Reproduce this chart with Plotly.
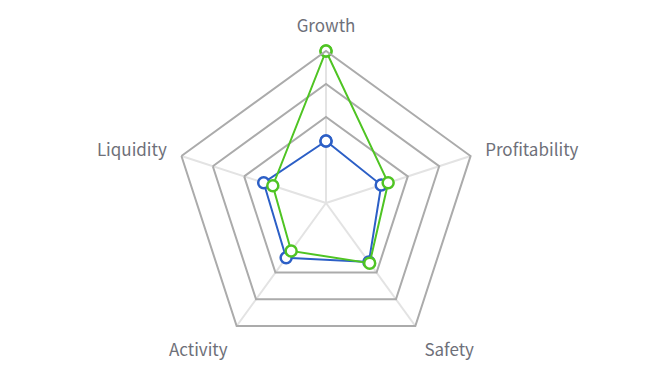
import plotly.graph_objects as go

categories = ["Growth", "Profitability", "Safety", "Activity", "Liquidity"]
series_a = [40.8, 38.2, 48.0, 44.6, 43.1]   # blue
series_b = [100.0, 43.0, 48.9, 39.0, 36.8]  # green
ring_values = [56.6, 78.3]
r_max = 100

BLUE = "#2c5fc6"
GREEN = "#4fc423"

def closed(v):
    return list(v) + [v[0]]

fig = go.Figure()
for vals, col in [(series_a, BLUE), (series_b, GREEN)]:
    fig.add_trace(go.Scatterpolar(
        r=closed(vals), theta=closed(categories), mode="lines+markers",
        line=dict(color=col, width=2),
        marker=dict(symbol="circle", size=11, color="white",
                    line=dict(color=col, width=2.5)),
        showlegend=False, hoverinfo="skip", cliponaxis=False))

fig.update_layout(
    width=650, height=375,
    margin=dict(l=0, r=0, t=0, b=0),
    paper_bgcolor="white", plot_bgcolor="white",
    font=dict(family="Noto Sans CJK SC", size=17, color="#6e7079"),
    polar=dict(
        domain=dict(x=[166/650, 470/650], y=[1-347/375, 1-43/375]),
        bgcolor="white",
        gridshape="linear",
        radialaxis=dict(range=[0, r_max], tickvals=ring_values, showticklabels=False,
                        showline=False, ticks="", gridcolor="#ababab", gridwidth=2),
        angularaxis=dict(direction="clockwise", rotation=90,
                         categoryorder="array", categoryarray=categories,
                         showline=True, linecolor="#ababab", linewidth=2,
                         gridcolor="#e3e3e3", gridwidth=1.5,
                         ticks="outside", ticklen=11, tickcolor="rgba(0,0,0,0)",
                         tickfont=dict(family="Noto Sans CJK SC", size=17, color="#6e7079")),
    ),
)
fig.write_html("out.html")
